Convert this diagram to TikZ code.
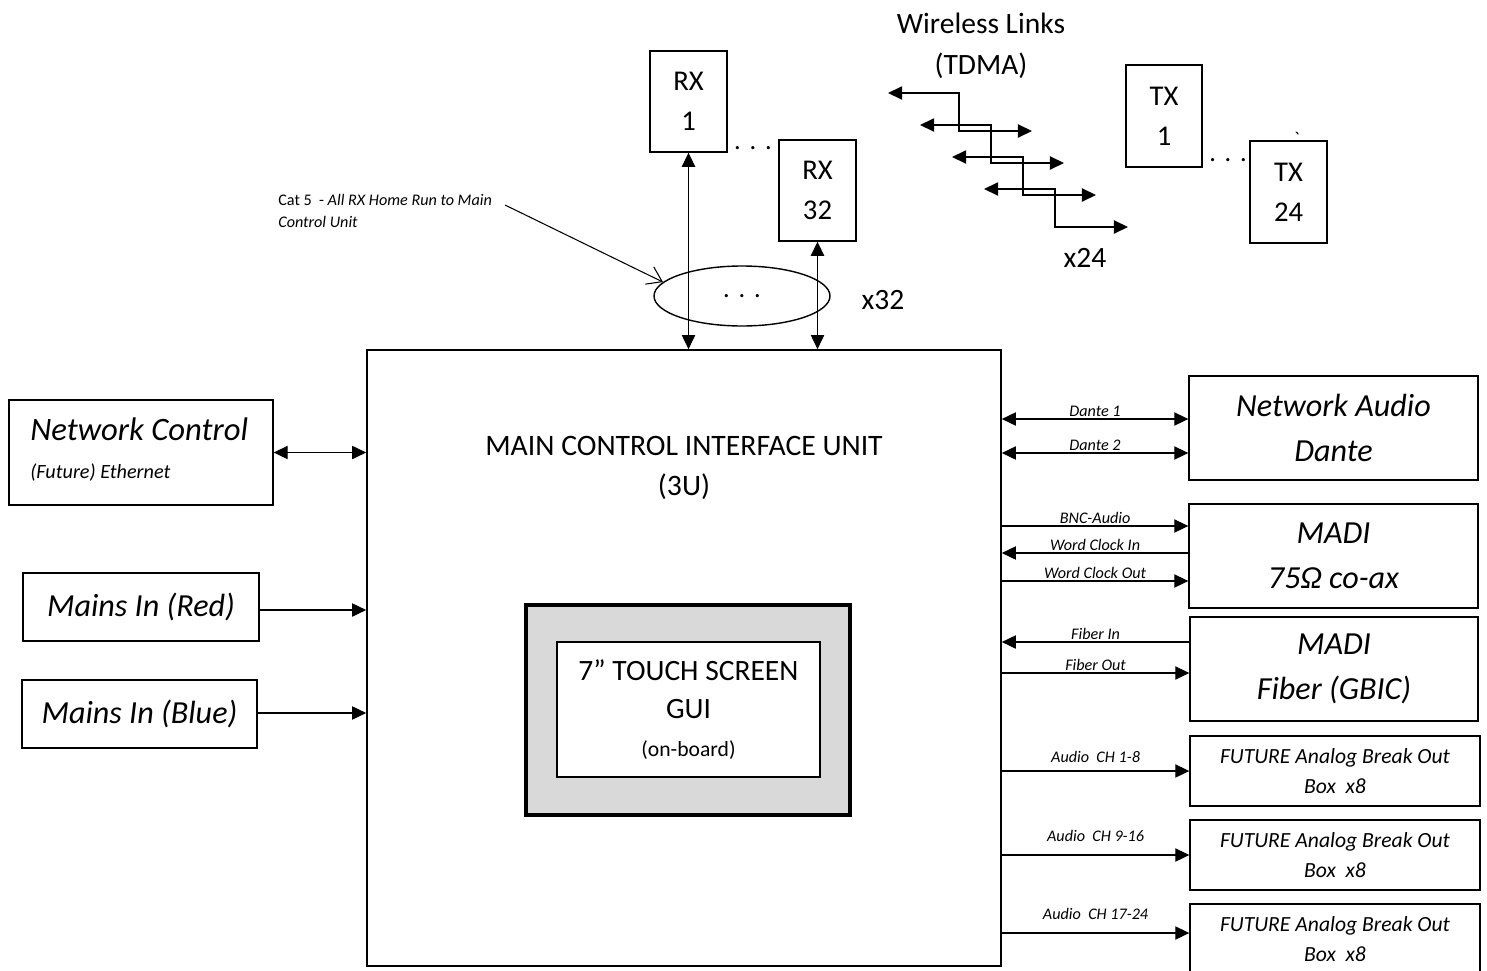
\documentclass[tikz,border=0pt]{standalone}
\usepackage{fontspec}
\setmainfont{Carlito}
\usetikzlibrary{arrows.meta,shapes.geometric}
\begin{document}
\begin{tikzpicture}[x=0.02cm, y=-0.02cm, >={Triangle[length=8pt,width=7.5pt]},
		box/.style={draw, line width=0.8pt, inner sep=0pt, align=center},
		wire/.style={line width=0.8pt},
		lbl/.style={font=\fontsize{9.2}{10}\selectfont\itshape, inner sep=1.2pt},
		bigit/.style={font=\fontsize{18.3}{25.6}\selectfont\itshape},
		rxtx/.style={box, minimum width=1.54cm, minimum height=2.02cm, font=\fontsize{16.3}{22.8}\selectfont},
		future/.style={box, minimum width=5.80cm, minimum height=1.40cm, font=\fontsize{12.3}{17}\selectfont\itshape}]
		\useasboundingbox ( 0, 0 ) rectangle ( 1487, 970 );
		\node [box, line width=1pt, minimum width=12.68cm, minimum height=12.32cm] (main) at ( 684, 658 ) {};
		\node [font=\fontsize{16.9}{22.8}\selectfont, align=center] (maintitle) at ( 684, 468 ) {MAIN CONTROL INTERFACE UNIT\\(3U)};
		\node [box, line width=2.6pt, fill=gray!30, minimum width=6.48cm, minimum height=4.20cm] (guiframe) at ( 688, 710 ) {};
		\node [box, fill=white, minimum width=5.26cm, minimum height=2.70cm, font=\fontsize{16.8}{21.6}\selectfont] (gui) at ( 688.5, 709.5 ) {7” TOUCH SCREEN\\GUI\\{\fontsize{12.3}{21.6}\selectfont(on-board)}};
		\node [box, minimum width=5.28cm, minimum height=2.10cm] (netctl) at ( 141, 452.5 ) {};
		\node [align=flush left, anchor=west, inner sep=0pt, font=\fontsize{18.6}{21.6}\selectfont\itshape] (netctltext) at ( 30, 450 ) {Network Control\\{\fontsize{11.5}{21.6}\selectfont(Future) Ethernet}};
		\node [box, bigit, minimum width=4.72cm, minimum height=1.36cm] (mainsred) at ( 141, 607 ) {Mains In (Red)};
		\node [box, bigit, minimum width=4.70cm, minimum height=1.36cm] (mainsblue) at ( 139.5, 714 ) {Mains In (Blue)};
		\draw [<->, wire] (netctl.east) -- (main.west |- netctl.east);
		\draw [->, wire] (mainsred.east |- 0,610) -- (main.west |- 0,610);
		\draw [->, wire] (mainsblue.east |- 0,713) -- (main.west |- 0,713);
		\node [rxtx] (rx1) at ( 688.5, 101.5 ) {RX\\1};
		\node [rxtx] (rx32) at ( 817.5, 190.5 ) {RX\\32};
		\node [font=\fontsize{15}{16}\selectfont, anchor=base] (rxdots) at ( 753, 149 ) {.\,\,.\,\,.};
		\node [draw, ellipse, line width=0.8pt, minimum width=3.52cm, minimum height=1.20cm, font=\fontsize{15}{16}\selectfont] (bundle) at ( 742, 296 ) {.\,\,.\,\,.};
		\node [font=\fontsize{16.8}{18}\selectfont] (rxcount) at ( 883, 300 ) {x32};
		\draw [<->, wire] (rx1.south) -- (rx1.south |- main.north);
		\draw [<->, wire] (rx32.south) -- (rx32.south |- main.north);
		\node [font=\fontsize{9.2}{13}\selectfont, align=flush left, anchor=west, inner sep=0pt] (catnote) at ( 278, 211 ) {Cat 5~ - \textit{All RX Home Run to Main}\\\textit{Control Unit}};
		\coordinate (cattail) at ( 505, 205 );
		\draw [line width=0.6pt, -{Straight Barb[length=8pt,width=11pt]}] (cattail) -- (bundle.170);
		\node [font=\fontsize{16.8}{23.3}\selectfont, align=center] (wlinks) at ( 981, 45.5 ) {Wireless Links\\(TDMA)};
		\foreach \k in {0,...,3}
			\draw [<->, wire] ( {888+32*\k}, {93+32*\k} ) -- ( {959+32*\k}, {93+32*\k} ) -- ( {959+32*\k}, {131+32*\k} ) -- ( {1032+32*\k}, {131+32*\k} );
		\node [font=\fontsize{16.8}{18}\selectfont] (txcount) at ( 1085, 258 ) {x24};
		\node [rxtx, minimum width=1.52cm, minimum height=2.04cm] (tx1) at ( 1164, 116 ) {TX\\1};
		\node [rxtx, minimum height=2.04cm] (tx24) at ( 1288.5, 192 ) {TX\\24};
		\node [font=\fontsize{15}{16}\selectfont, anchor=base] (txdots) at ( 1228, 161 ) {.\,\,.\,\,.};
		\node [font=\fontsize{11}{12}\selectfont] (tick) at ( 1297, 139 ) {\textasciigrave};
		\node [box, bigit, minimum width=5.78cm, minimum height=2.08cm] (dante) at ( 1333.5, 428 ) {Network Audio\\Dante};
		\node [box, bigit, minimum width=5.78cm, minimum height=2.08cm] (madicoax) at ( 1333.5, 556 ) {MADI\\75Ω co-ax};
		\node [box, bigit, minimum width=5.76cm, minimum height=2.08cm] (madifiber) at ( 1334, 669 ) {MADI\\Fiber (GBIC)};
		\node [future] (future1) at ( 1335, 771 ) {FUTURE Analog Break Out\\Box~ x8};
		\node [future] (future2) at ( 1335, 855 ) {FUTURE Analog Break Out\\Box~ x8};
		\node [future] (future3) at ( 1335, 939 ) {FUTURE Analog Break Out\\Box~ x8};
		\draw [<->, wire] (main.east |- 0,419) -- node [lbl, above] {Dante 1} (dante.west |- 0,419);
		\draw [<->, wire] (main.east |- 0,453) -- node [lbl, above] {Dante 2} (dante.west |- 0,453);
		\draw [->, wire] (main.east |- 0,526) -- node [lbl, above] {BNC-Audio} (madicoax.west |- 0,526);
		\draw [<-, wire] (main.east |- 0,553) -- node [lbl, above] {Word Clock In} (madicoax.west |- 0,553);
		\draw [->, wire] (main.east |- 0,581) -- node [lbl, above] {Word Clock Out} (madicoax.west |- 0,581);
		\draw [<-, wire] (main.east |- 0,642) -- node [lbl, above] {Fiber In} (madifiber.west |- 0,642);
		\draw [->, wire] (main.east |- 0,673) -- node [lbl, above] {Fiber Out} (madifiber.west |- 0,673);
		\draw [->, wire] (main.east |- future1.west) -- node [lbl, above=3pt] {Audio~~CH 1-8} (future1.west);
		\draw [->, wire] (main.east |- future2.west) -- node [lbl, above=6pt] {Audio~~CH 9-16} (future2.west);
		\draw [->, wire] (main.east |- 0,933) -- node [lbl, above=6pt] {Audio~~CH 17-24} (future3.west |- 0,933);
	\end{tikzpicture}
\end{document}
